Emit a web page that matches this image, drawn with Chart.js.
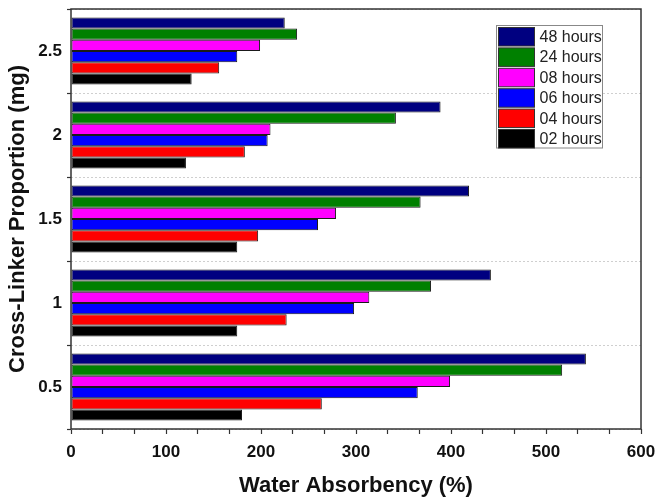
<!DOCTYPE html>
<html>
<head>
<meta charset="utf-8">
<script src="https://cdn.jsdelivr.net/npm/chart.js@4.4.0/dist/chart.umd.min.js"></script>
<style>
html, body { margin: 0; padding: 0; background: #fff; }
</style>
</head>
<body>
<canvas id="absorbChart" width="658" height="499"></canvas>
<script>
// cross-linker amounts (mg), bottom to top
const proportions = ['0.5', '1', '1.5', '2', '2.5'];

// water absorbency (%) for each soaking time, same order as proportions
const h02 = [180, 175, 175, 121, 127];
const h04 = [264, 227, 197, 183, 156];
const h06 = [365, 298, 260, 207, 175];
const h08 = [399, 314, 279, 210, 199];
const h24 = [517, 379, 368, 342, 238];
const h48 = [542, 442, 419, 389, 225];

const seriesNames = ['48 hours', '24 hours', '08 hours', '06 hours', '04 hours', '02 hours'];
const seriesData = [h48, h24, h08, h06, h04, h02];
const seriesColors = ['#000080', '#008000', '#ff00ff', '#0000ff', '#ff0000', '#000000'];

const FONT = '"Liberation Sans", Arial, sans-serif';

// category axis runs top to bottom, so feed it reversed
const labelsTopDown = proportions.slice().reverse();

const datasets = seriesNames.map((name, i) => ({
    label: name,
    data: seriesData[i].slice().reverse(),
    backgroundColor: seriesColors[i],
    borderColor: '#1a1a1a',
    borderWidth: 1,
    borderSkipped: false,
    barPercentage: 1.0,
    categoryPercentage: 0.8
}));

// box around the plot and the boxed legend in the top right
const framePlugin = {
    id: 'frame',
    afterDatasetsDraw(chart) {
        const { ctx, chartArea: a } = chart;
        ctx.save();
        ctx.strokeStyle = '#333';
        ctx.lineWidth = 1.5;
        ctx.strokeRect(a.left, a.top, a.right - a.left, a.bottom - a.top);

        // legend
        const bx = 496, by = 25, bw = 106, bh = 122.5, row = 20.4;
        ctx.fillStyle = '#fff';
        ctx.fillRect(bx, by, bw, bh);
        ctx.strokeStyle = '#888';
        ctx.lineWidth = 1;
        ctx.strokeRect(bx + 0.5, by + 0.5, bw, bh);
        ctx.font = '16px ' + FONT;
        ctx.textBaseline = 'middle';
        chart.data.datasets.forEach((ds, i) => {
            const y = by + 2.5 + i * row;
            ctx.fillStyle = ds.backgroundColor;
            ctx.fillRect(bx + 2.5, y, 36, 18.5);
            ctx.strokeStyle = '#333';
            ctx.strokeRect(bx + 2.5, y, 36, 18.5);
            ctx.fillStyle = '#222';
            ctx.fillText(ds.label, bx + 43.5, y + 10);
        });
        ctx.restore();
    }
};

const ctx = document.getElementById('absorbChart').getContext('2d');
new Chart(ctx, {
    type: 'bar',
    data: {
        labels: labelsTopDown,
        datasets: datasets
    },
    options: {
        indexAxis: 'y',
        responsive: false,
        animation: false,
        layout: { padding: { left: 0, right: 17, top: 9, bottom: 0 } },
        plugins: {
            legend: { display: false },
            tooltip: { enabled: false }
        },
        scales: {
            x: {
                type: 'linear',
                min: 0,
                max: 600,
                afterFit: function(scale) {
                    scale.height = 70;
                    scale.paddingLeft = 0;
                    scale.paddingRight = 0;
                },
                ticks: {
                    stepSize: 100 / 3,
                    autoSkip: false,
                    maxRotation: 0,
                    padding: 8,
                    color: '#111',
                    font: { family: FONT, size: 17, weight: 'bold' },
                    callback: function(value) {
                        const v = Math.round(value);
                        return v % 100 === 0 ? v : '';
                    }
                },
                grid: {
                    drawOnChartArea: false,
                    tickLength: 5,
                    tickColor: '#333',
                    tickWidth: 1.2
                },
                border: { display: false },
                title: {
                    display: true,
                    text: 'Water Absorbency (%)',
                    color: '#111',
                    font: { family: FONT, size: 22, weight: 'bold' },
                    padding: { top: 0, bottom: 0 }
                }
            },
            y: {
                type: 'category',
                afterFit: function(scale) {
                    scale.width = 71;
                    scale.paddingTop = 0;
                    scale.paddingBottom = 0;
                },
                ticks: {
                    autoSkip: false,
                    padding: 5,
                    color: '#111',
                    font: { family: FONT, size: 17, weight: 'bold' }
                },
                grid: {
                    offset: true,
                    color: '#cfcfcf',
                    lineWidth: 1,
                    tickLength: 4,
                    tickColor: '#333',
                    tickWidth: 1.2
                },
                border: { display: false, dash: [2, 2] },
                title: {
                    display: true,
                    text: 'Cross-Linker Proportion (mg)',
                    color: '#111',
                    font: { family: FONT, size: 22, weight: 'bold' },
                    padding: { top: 5, bottom: 0 }
                }
            }
        }
    },
    plugins: [framePlugin]
});
</script>
</body>
</html>
